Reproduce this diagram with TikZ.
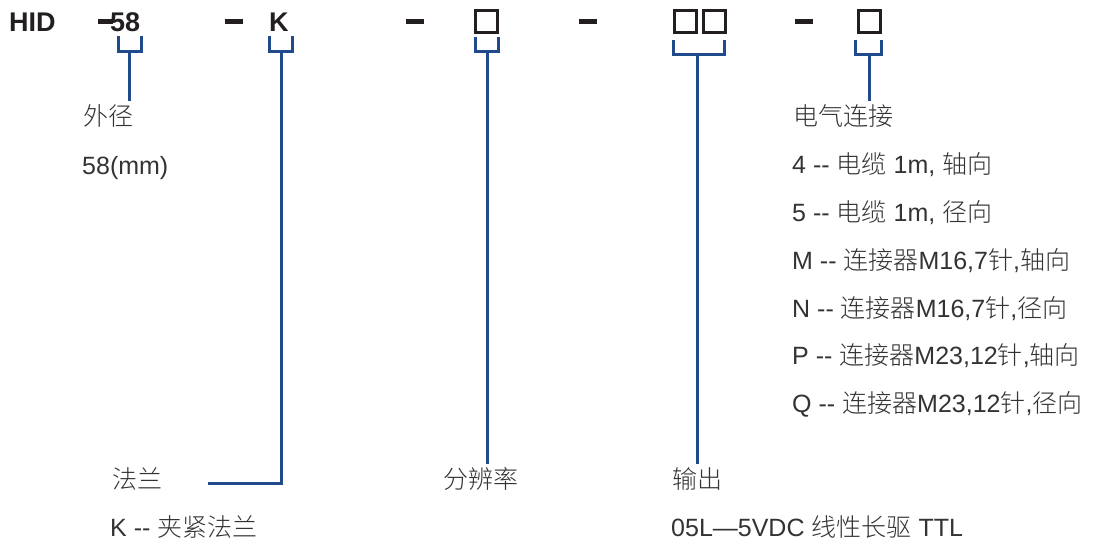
\documentclass[tikz,border=0pt]{standalone}
\usepackage{fontspec}
\setmainfont{Liberation Sans}
\IfFontExistsTF{Noto Sans CJK SC Light}
  {\newfontfamily\cjk{Noto Sans CJK SC Light}}
  {\newfontfamily\cjk{Noto Sans CJK SC}}
\definecolor{codegray}{HTML}{231F20}
\definecolor{labgray}{HTML}{333333}
\definecolor{braceblue}{HTML}{1F4B8C}

\tikzset{
  code/.style={font=\fontsize{27}{30}\selectfont\bfseries, text=codegray, inner sep=0pt, anchor=base west},
  lab/.style={font=\fontsize{25}{30}\selectfont, text=labgray, inner sep=0pt, anchor=base west},
  dashbar/.style={fill=codegray, draw=none},
  slot/.style={draw=codegray, line width=3pt, minimum size=22pt, inner sep=0pt},
  brace/.style={draw=braceblue, line width=3pt},
}

\begin{document}
\begin{tikzpicture}[x=1pt,y=-1pt]
  \useasboundingbox (0,0) rectangle (1099,543);

  % type code
  \node[code] (hid) at (9,31.5) {HID};
  \node[code] (c58) at (110,31.5) {58};
  \node[code] (cK) at (269,31.5) {K};
  \node[slot] (res) at (486.5,21.5) {};
  \node[slot] (outa) at (685.5,21.5) {};
  \node[slot] (outb) at (714,21.5) {};
  \node[slot] (conn) at (869,21.5) {};

  \foreach \xa/\xb in {98/113, 225/243, 406/424, 579/597, 795/813}{
    \fill[dashbar] (\xa,19.3) rectangle (\xb,24.5);
  }

  % labels
  \node[lab] (wai) at (83,125) {\cjk 外径};
  \node[lab] (dia) at (82,174) {58(mm)};
  \node[lab] (fl) at (112,488) {\cjk 法兰};
  \node[lab] (flk) at (110,536) {K -{}- {\cjk 夹紧法兰}};
  \node[lab] (fbl) at (443,488) {\cjk 分辨率};
  \node[lab] (sc) at (672,488) {\cjk 输出};
  \node[lab] (ttl) at (671,536) {05L—5VDC {\cjk 线性长驱} TTL};
  \node[lab] (dq) at (793,125) {\cjk 电气连接};
  \node[lab] (e4) at (792,173) {4 -{}- {\cjk 电缆} 1m, {\cjk 轴向}};
  \node[lab] (e5) at (792,221) {5 -{}- {\cjk 电缆} 1m, {\cjk 径向}};
  \node[lab] (eM) at (792,269) {M -{}- {\cjk 连接器}M16,7{\cjk 针},{\cjk 轴向}};
  \node[lab] (eN) at (792,317) {N -{}- {\cjk 连接器}M16,7{\cjk 针},{\cjk 径向}};
  \node[lab] (eP) at (792,364) {P -{}- {\cjk 连接器}M23,12{\cjk 针},{\cjk 轴向}};
  \node[lab] (eQ) at (792,412) {Q -{}- {\cjk 连接器}M23,12{\cjk 针},{\cjk 径向}};

  % brackets
  \draw[brace] (118,36) |- (141,52) -- (141,36);
  \draw[brace] (269,36) |- (292,52) -- (292,36);
  \draw[brace] (475,37) |- (498,52) -- (498,37);
  \draw[brace] (673,40) |- (724,55) -- (724,40);
  \draw[brace] (855,40) |- (881,55) -- (881,40);
  \coordinate (b58) at (129,52);
  \coordinate (bK) at (281,52);
  \coordinate (bres) at (487,52);
  \coordinate (bout) at (697,55);
  \coordinate (bconn) at (869,55);
  \coordinate (kend) at (208,483);

  \draw[brace, shorten >=3pt] (b58) -- (b58 |- wai.north);
  \draw[brace] (bK) |- (kend);
  \draw[brace, shorten >=3pt] (bres) -- (bres |- fbl.north);
  \draw[brace, shorten >=3pt] (bout) -- (bout |- sc.north);
  \draw[brace, shorten >=3pt] (bconn) -- (bconn |- dq.north);
\end{tikzpicture}
\end{document}
